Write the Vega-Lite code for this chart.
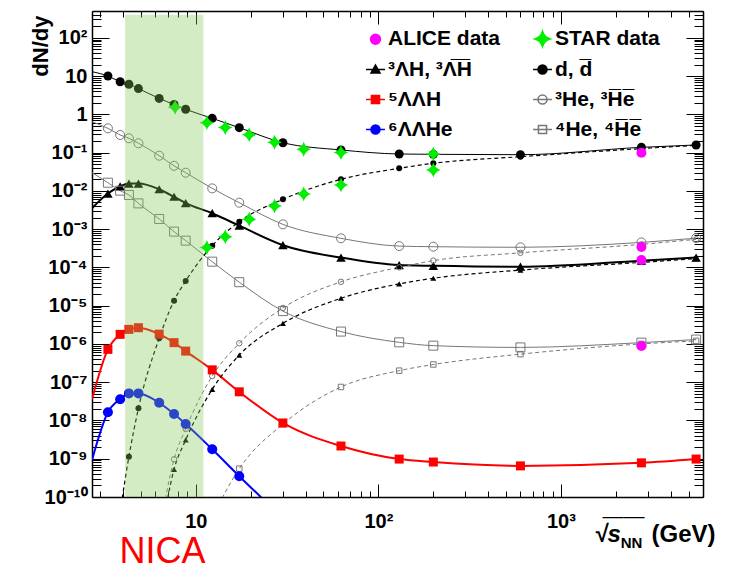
{
  "$schema": "https://vega.github.io/schema/vega-lite/v6.json",
  "width": 611,
  "height": 486,
  "autosize": {"type": "none"},
  "padding": {"left": 92, "top": 11, "right": 39, "bottom": 69},
  "background": "white",
  "config": {
    "view": {"stroke": null},
    "axis": {"grid": false, "tickColor": "black", "domainColor": "black", "domainWidth": 1.5, "tickWidth": 1, "labelFlush": false, "labelOverlap": false, "zindex": 1, "labelFont": "Liberation Sans", "titleFont": "Liberation Sans", "labelColor": "black", "titleColor": "black"}
  },
  "data": {"values": [
    {"c":"d","e":2.7,"v":13},{"c":"d","e":3.3,"v":10},{"c":"d","e":3.85,"v":7.1},{"c":"d","e":4.3,"v":6.1},{"c":"d","e":4.85,"v":4.7},{"c":"d","e":6.3,"v":2.6},{"c":"d","e":7.6,"v":1.8},{"c":"d","e":8.8,"v":1.35},{"c":"d","e":12.3,"v":0.785},{"c":"d","e":17.3,"v":0.447},{"c":"d","e":30,"v":0.181},{"c":"d","e":62.4,"v":0.117},{"c":"d","e":130,"v":0.0917},{"c":"d","e":200,"v":0.09},{"c":"d","e":600,"v":0.088},{"c":"d","e":2760,"v":0.137},{"c":"d","e":5500,"v":0.158},
    {"c":"dbar","e":3.85,"v":4e-11},{"c":"dbar","e":4.3,"v":1.13e-9},{"c":"dbar","e":4.85,"v":2.07e-8},{"c":"dbar","e":6.3,"v":1.4e-6},{"c":"dbar","e":7.6,"v":1.35e-5},{"c":"dbar","e":8.8,"v":4.4e-5},{"c":"dbar","e":12.3,"v":3.7e-4},{"c":"dbar","e":17.3,"v":1.56e-3},{"c":"dbar","e":30,"v":6.0e-3},{"c":"dbar","e":62.4,"v":0.02},{"c":"dbar","e":130,"v":0.0388},{"c":"dbar","e":200,"v":0.0524},{"c":"dbar","e":600,"v":0.078},{"c":"dbar","e":2760,"v":0.127},{"c":"dbar","e":5500,"v":0.155},
    {"c":"He3","e":2.7,"v":0.64},{"c":"He3","e":3.3,"v":0.43},{"c":"He3","e":3.85,"v":0.288},{"c":"He3","e":4.3,"v":0.236},{"c":"He3","e":4.85,"v":0.175},{"c":"He3","e":6.3,"v":0.083},{"c":"He3","e":7.6,"v":0.045},{"c":"He3","e":8.8,"v":0.0298},{"c":"He3","e":12.3,"v":0.0116},{"c":"He3","e":17.3,"v":4.9e-3},{"c":"He3","e":30,"v":1.33e-3},{"c":"He3","e":62.4,"v":5.75e-4},{"c":"He3","e":130,"v":3.6e-4},{"c":"He3","e":200,"v":3.47e-4},{"c":"He3","e":600,"v":3.35e-4},{"c":"He3","e":2760,"v":4.5e-4},{"c":"He3","e":5500,"v":5.8e-4},
    {"c":"He3bar","e":6.3,"v":1.1e-11},{"c":"He3bar","e":7.6,"v":9.7e-10},{"c":"He3bar","e":8.8,"v":6e-9},{"c":"He3bar","e":12.3,"v":1.45e-7},{"c":"He3bar","e":17.3,"v":1.04e-6},{"c":"He3bar","e":30,"v":8.7e-6},{"c":"He3bar","e":62.4,"v":4.2e-5},{"c":"He3bar","e":130,"v":1.0e-4},{"c":"He3bar","e":200,"v":1.5e-4},{"c":"He3bar","e":600,"v":2.4e-4},{"c":"He3bar","e":2760,"v":4.0e-4},{"c":"He3bar","e":5500,"v":5.4e-4},
    {"c":"He4","e":2.7,"v":0.03},{"c":"He4","e":3.3,"v":0.0163},{"c":"He4","e":3.85,"v":0.0101},{"c":"He4","e":4.3,"v":7.8e-3},{"c":"He4","e":4.85,"v":4.7e-3},{"c":"He4","e":6.3,"v":1.84e-3},{"c":"He4","e":7.6,"v":8.6e-4},{"c":"He4","e":8.8,"v":5.0e-4},{"c":"He4","e":12.3,"v":1.41e-4},{"c":"He4","e":17.3,"v":4.1e-5},{"c":"He4","e":30,"v":7.2e-6},{"c":"He4","e":62.4,"v":2.1e-6},{"c":"He4","e":130,"v":1.1e-6},{"c":"He4","e":200,"v":9.0e-7},{"c":"He4","e":600,"v":8.1e-7},{"c":"He4","e":2760,"v":1.08e-6},{"c":"He4","e":5500,"v":1.3e-6},
    {"c":"He4bar","e":12.3,"v":3e-11},{"c":"He4bar","e":17.3,"v":5.5e-10},{"c":"He4bar","e":30,"v":8e-9},{"c":"He4bar","e":62.4,"v":7.5e-8},{"c":"He4bar","e":130,"v":2.0e-7},{"c":"He4bar","e":200,"v":2.9e-7},{"c":"He4bar","e":600,"v":5.4e-7},{"c":"He4bar","e":2760,"v":1.0e-6},{"c":"He4bar","e":5500,"v":1.2e-6},
    {"c":"H3L","e":2.7,"v":3.5e-3},{"c":"H3L","e":3.3,"v":8.5e-3},{"c":"H3L","e":3.85,"v":1.3e-2},{"c":"H3L","e":4.3,"v":1.55e-2},{"c":"H3L","e":4.85,"v":1.55e-2},{"c":"H3L","e":6.3,"v":1.1e-2},{"c":"H3L","e":7.6,"v":7.0e-3},{"c":"H3L","e":8.8,"v":4.8e-3},{"c":"H3L","e":12.3,"v":2.6e-3},{"c":"H3L","e":17.3,"v":1.23e-3},{"c":"H3L","e":30,"v":3.8e-4},{"c":"H3L","e":62.4,"v":1.8e-4},{"c":"H3L","e":130,"v":1.15e-4},{"c":"H3L","e":200,"v":1.1e-4},{"c":"H3L","e":600,"v":1.04e-4},{"c":"H3L","e":2760,"v":1.5e-4},{"c":"H3L","e":5500,"v":1.8e-4},
    {"c":"H3Lbar","e":6.3,"v":5e-12},{"c":"H3Lbar","e":7.6,"v":5.3e-10},{"c":"H3Lbar","e":8.8,"v":3.1e-9},{"c":"H3Lbar","e":12.3,"v":6.5e-8},{"c":"H3Lbar","e":17.3,"v":5.1e-7},{"c":"H3Lbar","e":30,"v":3.45e-6},{"c":"H3Lbar","e":62.4,"v":1.56e-5},{"c":"H3Lbar","e":130,"v":3.7e-5},{"c":"H3Lbar","e":200,"v":5.2e-5},{"c":"H3Lbar","e":600,"v":8.5e-5},{"c":"H3Lbar","e":2760,"v":1.35e-4},{"c":"H3Lbar","e":5500,"v":1.7e-4},
    {"c":"H5LL","e":2.7,"v":3.6e-8},{"c":"H5LL","e":3.3,"v":7.2e-7},{"c":"H5LL","e":3.85,"v":1.78e-6},{"c":"H5LL","e":4.3,"v":2.4e-6},{"c":"H5LL","e":4.85,"v":2.65e-6},{"c":"H5LL","e":6.3,"v":1.8e-6},{"c":"H5LL","e":7.6,"v":1.08e-6},{"c":"H5LL","e":8.8,"v":6.5e-7},{"c":"H5LL","e":12.3,"v":2.1e-7},{"c":"H5LL","e":17.3,"v":5.6e-8},{"c":"H5LL","e":30,"v":8.6e-9},{"c":"H5LL","e":62.4,"v":2.15e-9},{"c":"H5LL","e":130,"v":9.8e-10},{"c":"H5LL","e":200,"v":8.2e-10},{"c":"H5LL","e":600,"v":6.5e-10},{"c":"H5LL","e":2760,"v":7.8e-10},{"c":"H5LL","e":5500,"v":9.8e-10},
    {"c":"He6LL","e":2.7,"v":9.2e-10},{"c":"He6LL","e":3.3,"v":1.63e-8},{"c":"He6LL","e":3.85,"v":3.6e-8},{"c":"He6LL","e":4.3,"v":5.1e-8},{"c":"He6LL","e":4.85,"v":5.1e-8},{"c":"He6LL","e":6.3,"v":2.9e-8},{"c":"He6LL","e":7.6,"v":1.47e-8},{"c":"He6LL","e":8.8,"v":8.1e-9},{"c":"He6LL","e":12.3,"v":1.76e-9},{"c":"He6LL","e":17.3,"v":3.5e-10},{"c":"He6LL","e":30,"v":2.8e-11},
    {"c":"STAR","e":7.7,"v":1.52},{"c":"STAR","e":11.5,"v":0.6},{"c":"STAR","e":14.5,"v":0.45},{"c":"STAR","e":19.6,"v":0.29},{"c":"STAR","e":27,"v":0.185},{"c":"STAR","e":39,"v":0.122},{"c":"STAR","e":62.4,"v":0.1},{"c":"STAR","e":200,"v":0.092},
    {"c":"STARbar","e":11.5,"v":3.3e-4},{"c":"STARbar","e":14.5,"v":6.3e-4},{"c":"STARbar","e":19.6,"v":1.8e-3},{"c":"STARbar","e":27,"v":4.0e-3},{"c":"STARbar","e":39,"v":8.3e-3},{"c":"STARbar","e":62.4,"v":0.0142},{"c":"STARbar","e":200,"v":0.035},
    {"c":"ALICE","e":2760,"v":0.099},{"c":"ALICE","e":2760,"v":3.4e-4},{"c":"ALICE","e":2760,"v":1.56e-4},{"c":"ALICE","e":2760,"v":8.8e-7}
  ]},
  "resolve": {"axis": {"x": "independent", "y": "independent"}},
  "layer": [
    {
      "transform": [{"filter": "datum.c === 'd'"}],
      "mark": {"type": "line", "color": "black", "strokeWidth": 1, "interpolate": "monotone", "clip": true},
      "encoding": {
        "x": {"field": "e", "type": "quantitative", "scale": {"type": "log", "domain": [2.7, 6000], "nice": false},
          "axis": {"orient": "bottom", "values": [10, 100, 1000], "tickSize": -13, "labelPadding": 27, "labelAlign": "center",
            "labelExpr": "round(log(datum.value)/LN10) == 1 ? '10' : round(log(datum.value)/LN10) == 2 ? '10²' : '10³'",
            "labelFontWeight": "bold", "labelFontSize": 20,
            "title": "(GeV)", "titleX": 591, "titleY": 37, "titleAlign": "center", "titleBaseline": "middle", "titleAngle": 0, "titleFontWeight": "bold", "titleFontSize": 24}},
        "y": {"field": "v", "type": "quantitative", "scale": {"type": "log", "domain": [1e-10, 500], "nice": false},
          "axis": {"orient": "left", "values": [1e-10, 1e-9, 1e-8, 1e-7, 1e-6, 1e-5, 1e-4, 1e-3, 1e-2, 1e-1, 1, 10, 100], "tickSize": -17, "labelPadding": 22,
            "labelExpr": "['10⁻¹⁰','10⁻⁹','10⁻⁸','10⁻⁷','10⁻⁶','10⁻⁵','10⁻⁴','10⁻³','10⁻²','10⁻¹','1','10','10²'][round(log(datum.value)/LN10)+10]",
            "labelFontWeight": "bold", "labelFontSize": 20,
            "title": "dN/dy", "titleX": -52, "titleY": 4, "titleAngle": 270, "titleAlign": "right", "titleBaseline": "middle", "titleFontWeight": "bold", "titleFontSize": 22}}
      }
    },
    {
      "transform": [{"filter": "datum.c === 'H3L'"}],
      "mark": {"type": "line", "color": "black", "strokeWidth": 2, "interpolate": "monotone", "clip": true},
      "encoding": {
        "x": {"field": "e", "type": "quantitative", "scale": {"type": "log", "domain": [2.7, 6000], "nice": false},
          "axis": {"orient": "bottom", "values": [3,4,5,6,7,8,9,20,30,40,50,60,70,80,90,200,300,400,500,600,700,800,900,2000,3000,4000,5000,6000], "tickSize": -6, "labels": false, "domain": false,
            "title": "√s", "titleX": 515, "titleY": 37, "titleAlign": "center", "titleBaseline": "middle", "titleAngle": 0, "titleFontWeight": "bold", "titleFontStyle": "italic", "titleFontSize": 24}},
        "y": {"field": "v", "type": "quantitative", "scale": {"type": "log", "domain": [1e-10, 500], "nice": false},
          "axis": {"orient": "left", "values": [2e-10,3e-10,4e-10,5e-10,6e-10,7e-10,8e-10,9e-10,2e-9,3e-9,4e-9,5e-9,6e-9,7e-9,8e-9,9e-9,2e-8,3e-8,4e-8,5e-8,6e-8,7e-8,8e-8,9e-8,2e-7,3e-7,4e-7,5e-7,6e-7,7e-7,8e-7,9e-7,2e-6,3e-6,4e-6,5e-6,6e-6,7e-6,8e-6,9e-6,2e-5,3e-5,4e-5,5e-5,6e-5,7e-5,8e-5,9e-5,2e-4,3e-4,4e-4,5e-4,6e-4,7e-4,8e-4,9e-4,0.002,0.003,0.004,0.005,0.006,0.007,0.008,0.009,0.02,0.03,0.04,0.05,0.06,0.07,0.08,0.09,0.2,0.3,0.4,0.5,0.6,0.7,0.8,0.9,2,3,4,5,6,7,8,9,20,30,40,50,60,70,80,90,200,300,400,500], "tickSize": -9, "labels": false, "domain": false, "title": null}}
      }
    },
    {
      "transform": [{"filter": "datum.c === 'He3' || datum.c === 'He4'"}],
      "mark": {"type": "line", "color": "#777777", "strokeWidth": 1, "interpolate": "monotone", "clip": true},
      "encoding": {
        "detail": {"field": "c"},
        "x": {"field": "e", "type": "quantitative", "scale": {"type": "log", "domain": [2.7, 6000], "nice": false},
          "axis": {"orient": "top", "values": [10, 100, 1000], "tickSize": -13, "labels": false,
            "title": "NN", "titleX": 539, "titleY": 531, "titleAlign": "center", "titleBaseline": "middle", "titleAngle": 0, "titleFontWeight": "bold", "titleFontSize": 15}},
        "y": {"field": "v", "type": "quantitative", "scale": {"type": "log", "domain": [1e-10, 500], "nice": false},
          "axis": {"orient": "right", "values": [1e-10, 1e-9, 1e-8, 1e-7, 1e-6, 1e-5, 1e-4, 1e-3, 1e-2, 1e-1, 1, 10, 100], "tickSize": -17, "labels": false,
            "title": "NICA", "titleX": -541, "titleY": 540, "titleAlign": "center", "titleBaseline": "middle", "titleAngle": 0, "titleFontWeight": "normal", "titleFontSize": 36, "titleColor": "#ff0000"}}
      }
    },
    {
      "transform": [{"filter": "datum.c === 'H5LL'"}],
      "mark": {"type": "line", "color": "#ff0000", "strokeWidth": 2, "interpolate": "monotone", "clip": true},
      "encoding": {
        "x": {"field": "e", "type": "quantitative", "scale": {"type": "log", "domain": [2.7, 6000], "nice": false},
          "axis": {"orient": "top", "values": [3,4,5,6,7,8,9,20,30,40,50,60,70,80,90,200,300,400,500,600,700,800,900,2000,3000,4000,5000,6000], "tickSize": -6, "labels": false, "domain": false,
            "title": "——", "titleX": 531, "titleY": 505, "titleAlign": "center", "titleBaseline": "middle", "titleAngle": 0, "titleFontWeight": "normal", "titleFontSize": 21}},
        "y": {"field": "v", "type": "quantitative", "scale": {"type": "log", "domain": [1e-10, 500], "nice": false},
          "axis": {"orient": "right", "values": [2e-10,3e-10,4e-10,5e-10,6e-10,7e-10,8e-10,9e-10,2e-9,3e-9,4e-9,5e-9,6e-9,7e-9,8e-9,9e-9,2e-8,3e-8,4e-8,5e-8,6e-8,7e-8,8e-8,9e-8,2e-7,3e-7,4e-7,5e-7,6e-7,7e-7,8e-7,9e-7,2e-6,3e-6,4e-6,5e-6,6e-6,7e-6,8e-6,9e-6,2e-5,3e-5,4e-5,5e-5,6e-5,7e-5,8e-5,9e-5,2e-4,3e-4,4e-4,5e-4,6e-4,7e-4,8e-4,9e-4,0.002,0.003,0.004,0.005,0.006,0.007,0.008,0.009,0.02,0.03,0.04,0.05,0.06,0.07,0.08,0.09,0.2,0.3,0.4,0.5,0.6,0.7,0.8,0.9,2,3,4,5,6,7,8,9,20,30,40,50,60,70,80,90,200,300,400,500], "tickSize": -9, "labels": false, "domain": false, "title": null}}
      }
    },
    {
      "transform": [{"filter": "datum.c === 'He6LL'"}],
      "mark": {"type": "line", "color": "#0000ff", "strokeWidth": 2, "interpolate": "monotone", "clip": true},
      "encoding": {
        "x": {"field": "e", "type": "quantitative", "scale": {"type": "log", "domain": [2.7, 6000], "nice": false}, "axis": null},
        "y": {"field": "v", "type": "quantitative", "scale": {"type": "log", "domain": [1e-10, 500], "nice": false}, "axis": null}
      }
    },
    {
      "transform": [{"filter": "datum.c === 'dbar' || datum.c === 'H3Lbar'"}],
      "mark": {"type": "line", "color": "black", "strokeWidth": 1.2, "strokeDash": [4, 3], "interpolate": "monotone", "clip": true},
      "encoding": {
        "detail": {"field": "c"},
        "x": {"field": "e", "type": "quantitative", "scale": {"type": "log", "domain": [2.7, 6000], "nice": false}, "axis": null},
        "y": {"field": "v", "type": "quantitative", "scale": {"type": "log", "domain": [1e-10, 500], "nice": false}, "axis": null}
      }
    },
    {
      "transform": [{"filter": "datum.c === 'He3bar' || datum.c === 'He4bar'"}],
      "mark": {"type": "line", "color": "#777777", "strokeWidth": 1, "strokeDash": [4, 3], "interpolate": "monotone", "clip": true},
      "encoding": {
        "detail": {"field": "c"},
        "x": {"field": "e", "type": "quantitative", "scale": {"type": "log", "domain": [2.7, 6000], "nice": false}, "axis": null},
        "y": {"field": "v", "type": "quantitative", "scale": {"type": "log", "domain": [1e-10, 500], "nice": false}, "axis": null}
      }
    },
    {
      "transform": [{"filter": "datum.c === 'd' && datum.e > 2.7"}],
      "mark": {"type": "point", "shape": "circle", "filled": true, "color": "black", "size": 81, "opacity": 1, "clip": true},
      "encoding": {
        "x": {"field": "e", "type": "quantitative", "scale": {"type": "log", "domain": [2.7, 6000], "nice": false}, "axis": null},
        "y": {"field": "v", "type": "quantitative", "scale": {"type": "log", "domain": [1e-10, 500], "nice": false}, "axis": null}
      }
    },
    {
      "transform": [{"filter": "datum.c === 'dbar'"}],
      "mark": {"type": "point", "shape": "circle", "filled": true, "color": "black", "size": 36, "opacity": 1, "clip": true},
      "encoding": {
        "x": {"field": "e", "type": "quantitative", "scale": {"type": "log", "domain": [2.7, 6000], "nice": false}, "axis": null},
        "y": {"field": "v", "type": "quantitative", "scale": {"type": "log", "domain": [1e-10, 500], "nice": false}, "axis": null}
      }
    },
    {
      "transform": [{"filter": "datum.c === 'H3L' && datum.e > 2.7"}],
      "mark": {"type": "point", "shape": "triangle-up", "filled": true, "color": "black", "size": 90, "opacity": 1, "clip": true},
      "encoding": {
        "x": {"field": "e", "type": "quantitative", "scale": {"type": "log", "domain": [2.7, 6000], "nice": false}, "axis": null},
        "y": {"field": "v", "type": "quantitative", "scale": {"type": "log", "domain": [1e-10, 500], "nice": false}, "axis": null}
      }
    },
    {
      "transform": [{"filter": "datum.c === 'H3Lbar'"}],
      "mark": {"type": "point", "shape": "triangle-up", "filled": true, "color": "black", "size": 36, "opacity": 1, "clip": true},
      "encoding": {
        "x": {"field": "e", "type": "quantitative", "scale": {"type": "log", "domain": [2.7, 6000], "nice": false}, "axis": null},
        "y": {"field": "v", "type": "quantitative", "scale": {"type": "log", "domain": [1e-10, 500], "nice": false}, "axis": null}
      }
    },
    {
      "transform": [{"filter": "datum.c === 'He3' && datum.e > 2.7"}],
      "mark": {"type": "point", "shape": "circle", "filled": false, "color": "#777777", "strokeWidth": 1, "size": 81, "opacity": 1, "clip": true},
      "encoding": {
        "x": {"field": "e", "type": "quantitative", "scale": {"type": "log", "domain": [2.7, 6000], "nice": false}, "axis": null},
        "y": {"field": "v", "type": "quantitative", "scale": {"type": "log", "domain": [1e-10, 500], "nice": false}, "axis": null}
      }
    },
    {
      "transform": [{"filter": "datum.c === 'He3bar'"}],
      "mark": {"type": "point", "shape": "circle", "filled": false, "color": "#777777", "strokeWidth": 1, "size": 30, "opacity": 1, "clip": true},
      "encoding": {
        "x": {"field": "e", "type": "quantitative", "scale": {"type": "log", "domain": [2.7, 6000], "nice": false}, "axis": null},
        "y": {"field": "v", "type": "quantitative", "scale": {"type": "log", "domain": [1e-10, 500], "nice": false}, "axis": null}
      }
    },
    {
      "transform": [{"filter": "datum.c === 'He4' && datum.e > 2.7"}],
      "mark": {"type": "point", "shape": "square", "filled": false, "color": "#777777", "strokeWidth": 1, "size": 81, "opacity": 1, "clip": true},
      "encoding": {
        "x": {"field": "e", "type": "quantitative", "scale": {"type": "log", "domain": [2.7, 6000], "nice": false}, "axis": null},
        "y": {"field": "v", "type": "quantitative", "scale": {"type": "log", "domain": [1e-10, 500], "nice": false}, "axis": null}
      }
    },
    {
      "transform": [{"filter": "datum.c === 'He4bar'"}],
      "mark": {"type": "point", "shape": "square", "filled": false, "color": "#777777", "strokeWidth": 1, "size": 30, "opacity": 1, "clip": true},
      "encoding": {
        "x": {"field": "e", "type": "quantitative", "scale": {"type": "log", "domain": [2.7, 6000], "nice": false}, "axis": null},
        "y": {"field": "v", "type": "quantitative", "scale": {"type": "log", "domain": [1e-10, 500], "nice": false}, "axis": null}
      }
    },
    {
      "transform": [{"filter": "datum.c === 'H5LL' && datum.e > 2.7"}],
      "mark": {"type": "point", "shape": "square", "filled": true, "color": "#ff0000", "size": 81, "opacity": 1, "clip": true},
      "encoding": {
        "x": {"field": "e", "type": "quantitative", "scale": {"type": "log", "domain": [2.7, 6000], "nice": false}, "axis": null},
        "y": {"field": "v", "type": "quantitative", "scale": {"type": "log", "domain": [1e-10, 500], "nice": false}, "axis": null}
      }
    },
    {
      "transform": [{"filter": "datum.c === 'He6LL' && datum.e > 2.7"}],
      "mark": {"type": "point", "shape": "circle", "filled": true, "color": "#0000ff", "size": 100, "opacity": 1, "clip": true},
      "encoding": {
        "x": {"field": "e", "type": "quantitative", "scale": {"type": "log", "domain": [2.7, 6000], "nice": false}, "axis": null},
        "y": {"field": "v", "type": "quantitative", "scale": {"type": "log", "domain": [1e-10, 500], "nice": false}, "axis": null}
      }
    },
    {
      "transform": [{"filter": "datum.c === 'STAR' || datum.c === 'STARbar'"}],
      "mark": {"type": "point", "shape": "M0,-1Q0.22,-0.22 1,0Q0.22,0.22 0,1Q-0.22,0.22 -1,0Q-0.22,-0.22 0,-1Z", "filled": true, "color": "#00ee00", "size": 225, "opacity": 1, "clip": true},
      "encoding": {
        "x": {"field": "e", "type": "quantitative", "scale": {"type": "log", "domain": [2.7, 6000], "nice": false}, "axis": null},
        "y": {"field": "v", "type": "quantitative", "scale": {"type": "log", "domain": [1e-10, 500], "nice": false}, "axis": null}
      }
    },
    {
      "transform": [{"filter": "datum.c === 'ALICE'"}],
      "mark": {"type": "point", "shape": "circle", "filled": true, "color": "#ff00ff", "size": 100, "opacity": 1, "clip": true},
      "encoding": {
        "x": {"field": "e", "type": "quantitative", "scale": {"type": "log", "domain": [2.7, 6000], "nice": false}, "axis": null},
        "y": {"field": "v", "type": "quantitative", "scale": {"type": "log", "domain": [1e-10, 500], "nice": false}, "axis": null}
      }
    },
    {
      "data": {"values": [{"series": "ALICE data"}, {"series": "³ΛH,  ³Λ̅H̅"}, {"series": "⁵ΛΛH"}, {"series": "⁶ΛΛHe"}, {"series": "STAR data"}, {"series": "d,  d̅"}, {"series": "³He,  ³H̅e̅"}, {"series": "⁴He,  ⁴H̅e̅"}]},
      "mark": {"type": "point", "size": 81, "strokeWidth": 1.5, "opacity": 1, "invalid": "filter"},
      "encoding": {
        "x": {"field": "gev", "type": "quantitative", "scale": {"type": "log", "domain": [2.7, 6000], "nice": false}, "axis": null},
        "y": {"field": "dndy", "type": "quantitative", "scale": {"type": "log", "domain": [1e-10, 500], "nice": false}, "axis": null},
        "shape": {"field": "series", "type": "nominal",
          "scale": {"domain": ["ALICE data", "³ΛH,  ³Λ̅H̅", "⁵ΛΛH", "⁶ΛΛHe", "STAR data", "d,  d̅", "³He,  ³H̅e̅", "⁴He,  ⁴H̅e̅"],
            "range": ["M1.1,0A1.1,1.1 0 1,1 -1.1,0A1.1,1.1 0 1,1 1.1,0Z", "M-2.1,0H2.1M0,-1L1,0.75H-1Z", "M-2.1,0H2.1M-0.9,-0.9H0.9V0.9H-0.9Z", "M-2.1,0H2.1M1,0A1,1 0 1,1 -1,0A1,1 0 1,1 1,0Z", "M0,-1.7Q0.37,-0.37 1.7,0Q0.37,0.37 0,1.7Q-0.37,0.37 -1.7,0Q-0.37,-0.37 0,-1.7Z", "M-2.1,0H2.1M1,0A1,1 0 1,1 -1,0A1,1 0 1,1 1,0Z", "M-2.1,0H2.1M1,0A1,1 0 1,1 -1,0A1,1 0 1,1 1,0Z", "M-2.1,0H2.1M-0.9,-0.9H0.9V0.9H-0.9Z"]},
          "legend": {"title": null, "orient": "none", "legendX": 273, "legendY": 17, "columns": 2, "rowPadding": 8, "columnPadding": 29, "labelOffset": 2, "symbolOffset": 0, "padding": 0, "labelLimit": 300, "symbolSize": 81, "symbolStrokeWidth": 1.5, "labelFont": "Liberation Sans", "labelFontWeight": "bold", "labelFontSize": 21, "labelColor": "black"}},
        "fill": {"field": "series", "type": "nominal",
          "scale": {"domain": ["ALICE data", "³ΛH,  ³Λ̅H̅", "⁵ΛΛH", "⁶ΛΛHe", "STAR data", "d,  d̅", "³He,  ³H̅e̅", "⁴He,  ⁴H̅e̅"],
            "range": ["#ff00ff", "black", "#ff0000", "#0000ff", "#00ee00", "black", "transparent", "transparent"]},
          "legend": {"title": null, "orient": "none", "legendX": 273, "legendY": 17, "columns": 2, "rowPadding": 8, "columnPadding": 29, "labelOffset": 2, "symbolOffset": 0, "padding": 0, "labelLimit": 300, "symbolSize": 81, "symbolStrokeWidth": 1.5, "labelFont": "Liberation Sans", "labelFontWeight": "bold", "labelFontSize": 21, "labelColor": "black"}},
        "stroke": {"field": "series", "type": "nominal",
          "scale": {"domain": ["ALICE data", "³ΛH,  ³Λ̅H̅", "⁵ΛΛH", "⁶ΛΛHe", "STAR data", "d,  d̅", "³He,  ³H̅e̅", "⁴He,  ⁴H̅e̅"],
            "range": ["#ff00ff", "black", "#ff0000", "#0000ff", "#00ee00", "black", "#777777", "#777777"]},
          "legend": {"title": null, "orient": "none", "legendX": 273, "legendY": 17, "columns": 2, "rowPadding": 8, "columnPadding": 29, "labelOffset": 2, "symbolOffset": 0, "padding": 0, "labelLimit": 300, "symbolSize": 81, "symbolStrokeWidth": 1.5, "labelFont": "Liberation Sans", "labelFontWeight": "bold", "labelFontSize": 21, "labelColor": "black"}}
      }
    },
    {
      "data": {"values": [{"lo": 4.1, "hi": 11, "bottom": 1e-10, "top": 400}]},
      "mark": {"type": "rect", "color": "#80c856", "opacity": 0.35},
      "encoding": {
        "x": {"field": "lo", "type": "quantitative", "scale": {"type": "log", "domain": [2.7, 6000], "nice": false}, "axis": null},
        "x2": {"field": "hi"},
        "y": {"field": "bottom", "type": "quantitative", "scale": {"type": "log", "domain": [1e-10, 500], "nice": false}, "axis": null},
        "y2": {"field": "top"}
      }
    }
  ]
}
